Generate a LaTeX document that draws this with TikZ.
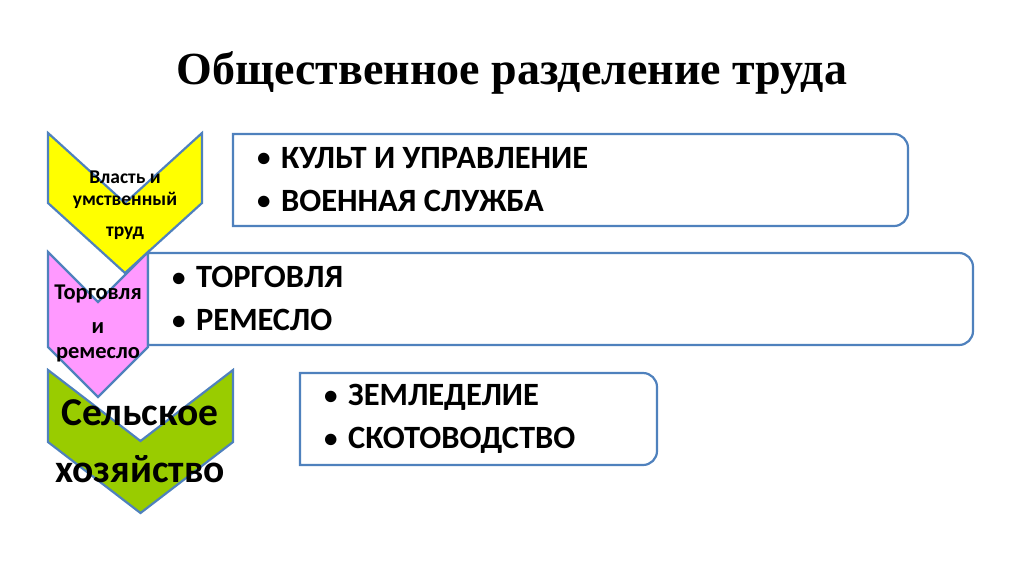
\documentclass[tikz,border=0pt]{standalone}
\usepackage{fontspec}
\setmainfont{Carlito}
\newfontfamily\titlefont{Liberation Serif}
\usepackage{xcolor}
\definecolor{edge}{RGB}{79,129,189}
\definecolor{cyellow}{RGB}{255,255,0}
\definecolor{cpink}{RGB}{255,153,255}
\definecolor{cgreen}{RGB}{153,204,0}
\newcommand\itm{\makebox[24pt][l]{\raisebox{1.5pt}{\fontsize{27}{27}\selectfont•}}}

\begin{document}
\begin{tikzpicture}
  [x=1pt,y=-1pt,line width=2.2pt,
   every node/.style={inner sep=0pt},
   chev/.style={draw=edge,line join=miter},
   box/.style={draw=edge,fill=white},
   items/.style={anchor=west,align=left,font=\bfseries\fontsize{32.5}{43}\selectfont},
   label/.style={align=center,font=\bfseries\fontsize{19.5}{22}\selectfont}]
  \useasboundingbox (0,0) rectangle (1024,574);

  \node (title) at (512,73) {\titlefont\bfseries\fontsize{46}{50}\selectfont Общественное разделение труда};

  % chevrons: left/right/top/side/depth/colour
  \foreach \l/\r/\t/\s/\d/\c in {48/202/133/70/70/cyellow,48/148/252/95/50/cpink,48/233/370/72/71/cgreen}
    \draw[chev,fill=\c] (\l,\t) -- ({(\l+\r)/2},\t+\d) -- (\r,\t) -- (\r,\t+\s)
      -- ({(\l+\r)/2},\t+\s+\d) -- (\l,\t+\s) -- cycle;

  % boxes, right corners rounded
  \foreach \l/\t/\r/\b in {233/134/908/226,148/253/973/345,300/373/657/465}
    \draw[box] (\l,\t) -- (\r-14,\t) arc[start angle=-90,end angle=0,radius=14]
      -- (\r,\b-14) arc[start angle=0,end angle=90,radius=14] -- (\l,\b) -- cycle;

  \node[label] (power) at (125,205) {Власть и\\умственный\\[9pt]труд};
  \node[label,font=\bfseries\fontsize{22.5}{25}\selectfont] (trade) at (98,323) {Торговля\\[9pt]и\\ремесло};
  \node[label,font=\bfseries\fontsize{39.5}{57}\selectfont] (farm) at (140,441) {Сельское\\хозяйство};

  \node[items] (cult) at (256,179.5) {\itm КУЛЬТ И УПРАВЛЕНИЕ\\\itm ВОЕННАЯ СЛУЖБА};
  \node[items] (craft) at (171,298.5) {\itm ТОРГОВЛЯ\\\itm РЕМЕСЛО};
  \node[items] (land) at (323,419) {\itm ЗЕМЛЕДЕЛИЕ\\\itm СКОТОВОДСТВО};

\end{tikzpicture}
\end{document}
